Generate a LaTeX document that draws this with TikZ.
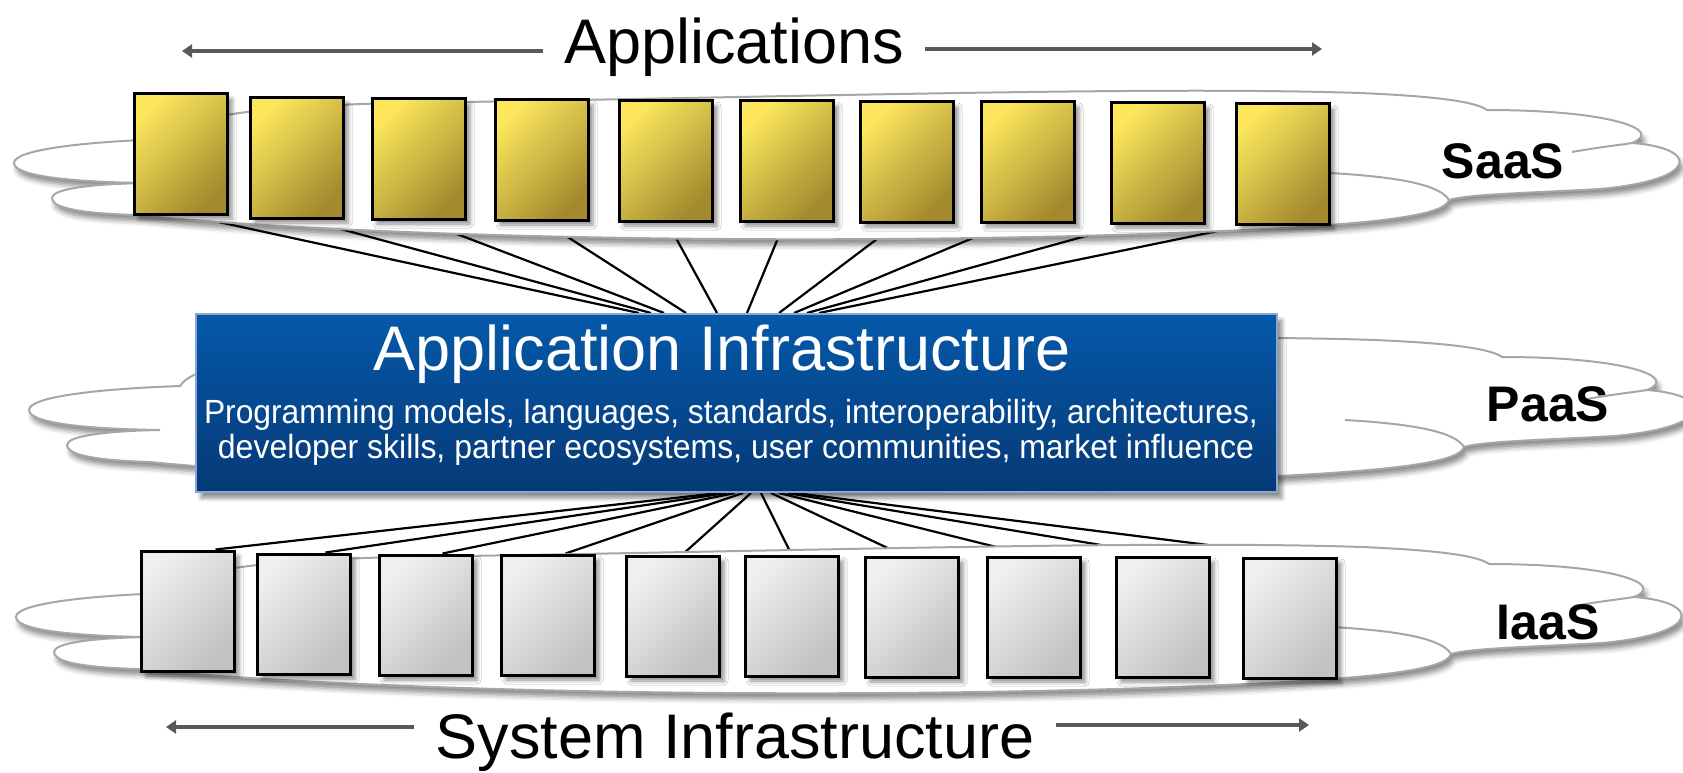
\documentclass[tikz,border=0pt]{standalone}
\usepackage{fontspec}
\setmainfont{Liberation Sans}
\usepackage{graphicx}
\usetikzlibrary{shadows.blur,arrows.meta}
\definecolor{yelA}{HTML}{FBE65C}
\definecolor{yelB}{HTML}{A38A2E}
\definecolor{grA}{HTML}{EFEFEF}
\definecolor{grB}{HTML}{C2C2C2}
\definecolor{blA}{HTML}{0559AA}
\definecolor{blB}{HTML}{063976}
\definecolor{blE}{HTML}{86A9D3}
\definecolor{cloudE}{HTML}{A6A6A6}
\definecolor{arrC}{HTML}{595959}
\pgfdeclarelayer{mid}
\pgfsetlayers{mid,main}
\tikzset{
  appbox/.style={rectangle, draw=black, line width=3pt, minimum width=93pt, minimum height=120pt, inner sep=0pt,
    top color=yelA, bottom color=yelB, shading angle=45,
    blur shadow={shadow xshift=5pt, shadow yshift=-5pt, shadow blur radius=4pt, shadow opacity=45}},
  sysbox/.style={appbox, top color=grA, bottom color=grB, shading angle=45},
  infrabox/.style={rectangle, draw=blE, line width=2pt, minimum width=1081pt, minimum height=178pt, inner sep=0pt,
    top color=blA, bottom color=blB,
    blur shadow={shadow xshift=5pt, shadow yshift=-6pt, shadow blur radius=4pt, shadow opacity=45}},
  cloudshape/.style={fill=white, draw=cloudE, line width=2pt,
    blur shadow={shadow xshift=3pt, shadow yshift=-6pt, shadow blur radius=5pt, shadow opacity=45}},
  cloudline/.style={draw=cloudE, line width=2pt},
  conn/.style={draw=black, line width=2.2pt},
  big/.style={font=\fontsize{63pt}{70pt}\selectfont, anchor=base, inner ysep=0pt, inner xsep=21pt},
  sub/.style={font=\fontsize{33.5pt}{38pt}\selectfont, text=white, anchor=base, inner sep=0pt},
  lbl/.style={font=\fontsize{50pt}{55pt}\selectfont\bfseries, anchor=base, inner sep=0pt},
  rangearrow/.style={draw=arrC, line width=4pt, -{Triangle[length=10pt,width=13pt]}}
}
\newcommand\drawcloud{%
  \path[cloudshape] (14,163) .. controls (14,150) and (80,142) .. (165,139)
    .. controls (178,118) and (250,106) .. (400,103)
    .. controls (800,97) and (1150,86) .. (1360,93)
    .. controls (1430,96) and (1475,101) .. (1487,110)
    .. controls (1610,110) and (1665,130) .. (1632,143)
    .. controls (1700,148) and (1700,180) .. (1600,189)
    .. controls (1530,193) and (1470,194) .. (1449,200)
    .. controls (1445,215) and (1380,222) .. (1300,227)
    .. controls (1000,245) and (450,245) .. (134,215)
    .. controls (70,213) and (52,206) .. (52,198)
    .. controls (52,189) and (90,184) .. (145,183)
    .. controls (70,182) and (14,176) .. (14,163) -- cycle;
  \draw[cloudline] (1330,173) .. controls (1400,177) and (1440,185) .. (1449,200);
  \draw[cloudline] (1572,152) .. controls (1600,147) and (1620,145) .. (1632,143);
}
\begin{document}
\begin{tikzpicture}[x=1pt,y=-1pt]
\useasboundingbox (0,0) rectangle (1683,773);
\begin{scope}[shift={(0,0)}]
  \drawcloud
\end{scope}
\begin{scope}[shift={(15,247)}]
  \drawcloud
\end{scope}
\begin{scope}[shift={(2,454)}]
  \drawcloud
\end{scope}
% top application boxes
\foreach \i/\x/\y in {1/180.5/154, 2/296.5/158, 3/418.5/159, 4/541.5/160, 5/665.5/161,
    6/786.5/161, 7/906.5/162, 8/1027.5/162, 9/1157.5/163, 10/1282.5/164}
  \node[appbox] (t\i) at (\x,\y) {};
% bottom system boxes
\foreach \i/\x/\y in {1/187.5/611, 2/303.5/614, 3/425.5/615, 4/547.5/615, 5/672.5/616,
    6/791.5/616, 7/911.5/617, 8/1033.5/617, 9/1162.5/617, 10/1289.5/618}
  \node[sysbox] (b\i) at (\x,\y) {};
% application infrastructure
\node[infrabox] (infra) at (736.5,403) {};
\node[big, text=white, inner xsep=0pt] (infratitle) at (722,370) {Application Infrastructure};
\node[sub] (infral1) at (731,423) {\resizebox{1054pt}{\height}{Programming models, languages, standards, interoperability, architectures,}};
\node[sub] (infral2) at (736,458) {\resizebox{1036pt}{\height}{developer skills, partner ecosystems, user communities, market influence}};
% connectors
\begin{pgfonlayer}{mid}
\foreach \i/\s/\e in {1/8/444, 2/9/456, 3/3/469, 4/2/491, 5/2/522, 6/-2/552, 7/-9/584, 8/-20/599, 9/-30/612, 10/-38/624}
  \draw[conn] ([xshift=\s pt]t\i.south) -- ([xshift=\e pt]infra.north west);
\foreach \i/\s/\e in {1/524/28, 2/532/22, 3/540/17, 4/548/18, 5/556/10, 6/566/0, 7/576/-8, 8/584/-3, 9/592/2, 10/600/10}
  \draw[conn] ([xshift=\s pt]infra.south west) -- ([xshift=\e pt]b\i.north);
\end{pgfonlayer}
% layer labels
\node[lbl] (saas) at (1503,178) {SaaS};
\node[lbl] (paas) at (1548,421) {PaaS};
\node[lbl] (iaas) at (1548,639) {IaaS};
% range titles
\node[big] (apps) at (734,64) {Applications};
\coordinate (appL) at (182,51);
\coordinate (appR) at (1322,49);
\draw[rangearrow] (apps.west |- appL) -- (appL);
\draw[rangearrow] (apps.east |- appR) -- (appR);
\node[big] (sysinf) at (735,758) {System Infrastructure};
\coordinate (sysL) at (166,727);
\coordinate (sysR) at (1309,725);
\draw[rangearrow] (sysinf.west |- sysL) -- (sysL);
\draw[rangearrow] (sysinf.east |- sysR) -- (sysR);
\end{tikzpicture}
\end{document}
